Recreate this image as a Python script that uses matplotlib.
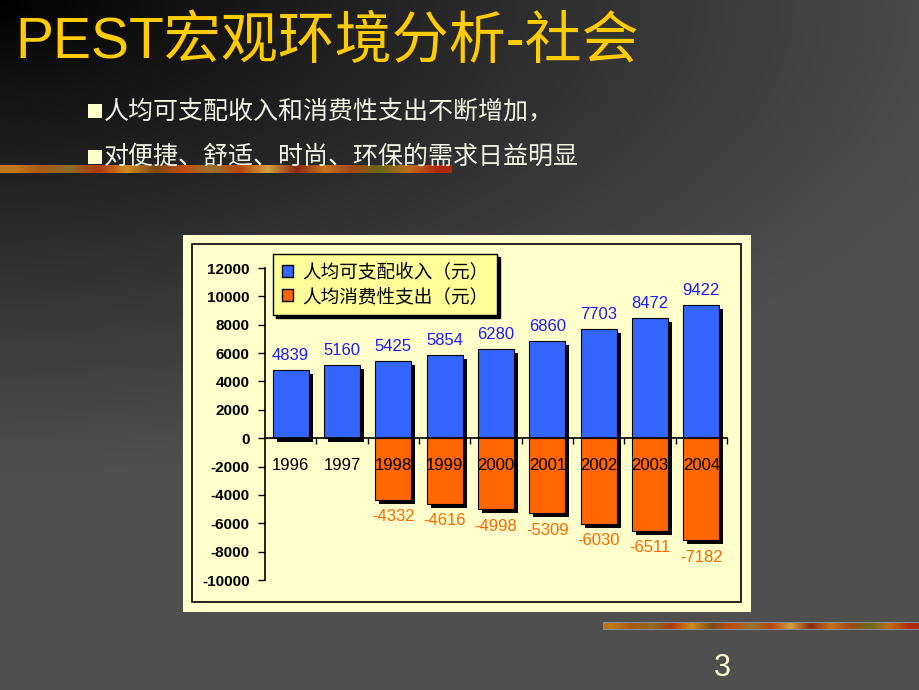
import numpy as np
import matplotlib.pyplot as plt
from matplotlib.patches import Rectangle, Patch
from matplotlib import transforms
from matplotlib.colors import to_rgb

# data
years = ['1996', '1997', '1998', '1999', '2000', '2001', '2002', '2003', '2004']
income = [4839, 5160, 5425, 5854, 6280, 6860, 7703, 8472, 9422]
spend_years = ['1998', '1999', '2000', '2001', '2002', '2003', '2004']
spending = [-4332, -4616, -4998, -5309, -6030, -6511, -7182]
yticks = list(range(-10000, 12001, 2000))

title = 'PEST宏观环境分析-社会'
bullets = ['人均可支配收入和消费性支出不断增加，', '对便捷、舒适、时尚、环保的需求日益明显']
legend_labels = ['人均可支配收入（元）', '人均消费性支出（元）']
strip_colors = ['#c07818', '#a85a10', '#8c6c28', '#b03a10', '#d08a20', '#7a4a18',
                '#c05010', '#9a7030', '#b84810', '#d0a040', '#8a2a10', '#c87020',
                '#a04818', '#6a6a20', '#c06a18', '#b02810']

BLUE = '#3366ff'
ORANGE = '#ff6600'
CJK = ['Noto Sans CJK SC', 'DejaVu Sans']
plt.rcParams['font.family'] = ['Liberation Sans', 'Noto Sans CJK SC', 'DejaVu Sans']

W, H = 920, 690
fig = plt.figure(figsize=(9.2, 6.9), dpi=100)

# slide background in pixel coordinates
bg = fig.add_axes([0, 0, 1, 1], zorder=0)
yy, xx = np.mgrid[0:H, 0:W]
d = np.sqrt((xx / 1000.0) ** 2 + (yy / 470.0) ** 2)
v = 0.31 * np.clip(d, 0, 1) ** 0.85
bg.imshow(np.dstack([v, v, v]), extent=(0, W, H, 0), aspect='auto', interpolation='bilinear')


def strip(x0, x1, y0, y1):
    cols = np.array([to_rgb(c) for c in strip_colors])[None, :, :]
    bg.imshow(cols, extent=(x0, x1, y1, y0), aspect='auto', interpolation='bilinear')


strip(0, 452, 165, 173)
strip(603, 920, 622, 629)
bg.add_patch(Rectangle((603, 622), 317, 7, fill=False, ec='#8a8a8a', lw=0.8))

bg.text(15, 58, title, fontsize=41, color='#ffcc00', va='baseline', ha='left')

for i, line in enumerate(bullets):
    yc = 111 + i * 46
    bg.add_patch(Rectangle((88, yc - 7), 14, 14, fc='#ffffcc', ec='none'))
    bg.text(104, yc, line, fontsize=18, color='#f2f2e4', va='center', ha='left', family=CJK)

bg.text(722, 668, '3', fontsize=22, color='#ffffcc', ha='center', va='center')

# chart panel
bg.add_patch(Rectangle((183, 235), 568, 377, fc='#ffffcc', ec='none'))
bg.add_patch(Rectangle((192, 244), 549, 358, fill=False, ec='black', lw=1.2))
bg.set_xlim(0, W)
bg.set_ylim(H, 0)
bg.axis('off')

ax = fig.add_axes([265 / W, 1 - 580 / H, (727 - 265) / W, 312 / H], zorder=2)
ax.set_facecolor('none')
x = np.arange(len(years))
xs = [years.index(y) for y in spend_years]

shadow = ax.transData + transforms.ScaledTranslation(0.04, -0.04, fig.dpi_scale_trans)
ax.bar(x, income, width=0.7, color='black', transform=shadow, zorder=1)
ax.bar(xs, spending, width=0.7, color='black', transform=shadow, zorder=1)
ax.bar(x, income, width=0.7, color=BLUE, ec='black', lw=0.8, zorder=2)
ax.bar(xs, spending, width=0.7, color=ORANGE, ec='black', lw=0.8, zorder=2)

for i, val in zip(x, income):
    ax.annotate(str(val), (i, val), xytext=(0, 5), textcoords='offset points',
                ha='center', va='bottom', color='#1a1aff', fontsize=12)
for i, val in zip(xs, spending):
    ax.annotate(str(val), (i, val), xytext=(0, -7), textcoords='offset points',
                ha='center', va='top', color=ORANGE, fontsize=12)
for i, yr in zip(x, years):
    ax.text(i, -1900, yr, ha='center', va='center', fontsize=12, color='black', zorder=5)

ax.set_xlim(-0.5, len(years) - 0.5)
ax.set_ylim(-10000, 12000)
ax.set_yticks(yticks)
ax.set_yticklabels([str(t) for t in yticks], fontsize=11, fontweight='bold')
ax.set_xticks(np.arange(0.5, len(years), 1))
ax.set_xticklabels([])
ax.tick_params(axis='x', direction='out', length=4, width=1)
ax.tick_params(axis='y', direction='out', length=5, width=1, pad=6)
ax.spines['top'].set_visible(False)
ax.spines['right'].set_visible(False)
ax.spines['bottom'].set_position(('data', 0))
ax.spines['left'].set_linewidth(1.2)
ax.spines['bottom'].set_linewidth(1.2)

handles = [Patch(fc=BLUE, ec='black'), Patch(fc=ORANGE, ec='black')]
fig.legend(handles, legend_labels, loc='upper left', bbox_to_anchor=(273 / W, 1 - 254 / H),
           frameon=True, facecolor='#ffff99', edgecolor='black', framealpha=1,
           fancybox=False, shadow={'color': 'black', 'alpha': 1},
           prop={'family': CJK, 'size': 13.4}, labelspacing=0.35,
           handlelength=0.6, handleheight=0.6, handletextpad=0.45,
           borderpad=0.5, borderaxespad=0)

fig.savefig('out.png', dpi=100)
